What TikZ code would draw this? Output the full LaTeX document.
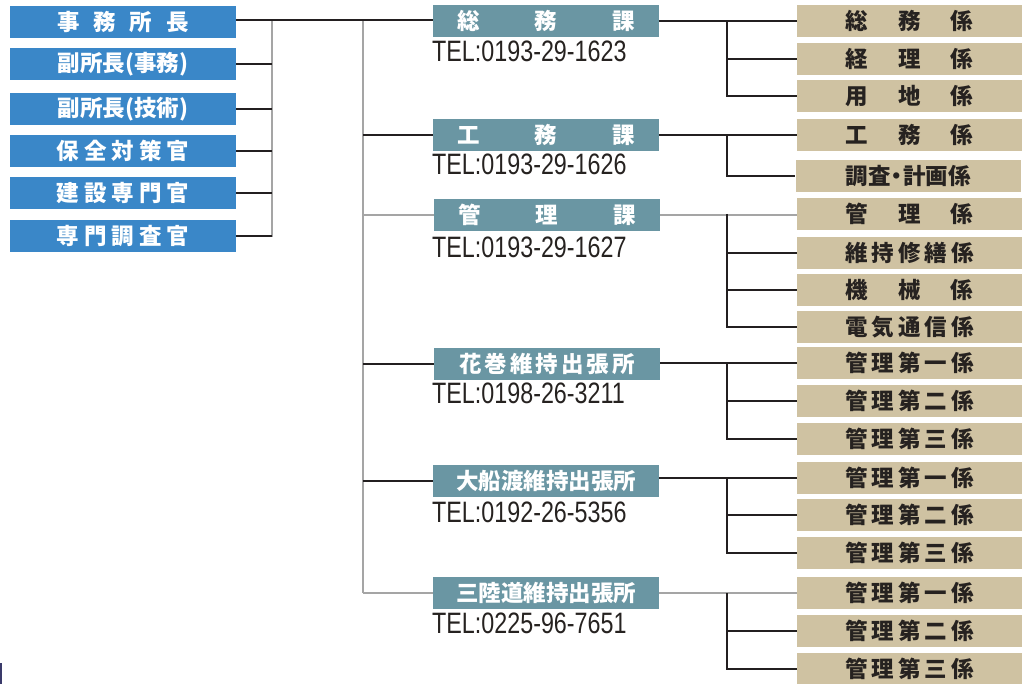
\documentclass[tikz,border=0pt]{standalone}
\usepackage{fontspec}
\newfontfamily\cjk{Noto Sans CJK JP}
\newfontfamily\telf[FakeStretch=0.79]{Liberation Sans}
\definecolor{bluebox}{RGB}{58,135,200}
\definecolor{tealbox}{RGB}{106,150,163}
\definecolor{tanbox}{RGB}{207,194,162}
\definecolor{darktext}{RGB}{38,34,32}
\definecolor{lineblack}{RGB}{35,31,32}
\definecolor{linegray}{RGB}{165,165,165}
\definecolor{navymark}{RGB}{58,58,106}
\newcommand\kk[1]{\hspace{#1pt}}
\begin{document}
\begin{tikzpicture}[x=1pt,y=-1pt,
  bbox/.style={rectangle, inner sep=0pt, minimum width=226pt, minimum height=32pt, fill=bluebox, text=white, font=\cjk\bfseries\fontsize{22.5}{22.5}\selectfont},
  tbox/.style={bbox, fill=tealbox},
  gbox/.style={bbox, minimum width=225pt, fill=tanbox, text=darktext},
  tel/.style={anchor=base west, inner sep=0pt, text=darktext, font=\telf\fontsize{29.5}{29.5}\selectfont},
  ln/.style={draw=lineblack, line width=1.2pt},
  gln/.style={draw=linegray, line width=1.7pt}]
\useasboundingbox (0,0) rectangle (1022,684);
% connector coordinates
\coordinate (lv1) at (272,20);
\coordinate (lv2) at (272,237);
\coordinate (mv1) at (363,20);
\coordinate (mv2) at (363,593);
\coordinate (rv) at (727,0);
% lines behind boxes (gray)
\draw[gln] (lv1) -- (lv2);
\draw[gln] (mv1) -- (mv2);
\draw[gln] (363,215) -- (797,215);
\draw[gln] (363,593) -- (797,593);
% left column
\node[bbox] (s1) at (123,22) {事\kk{14}務\kk{14}所\kk{14}長};
\node[bbox] (s2) at (123,64) {副所長(事務)};
\node[bbox] (s3) at (123,109) {副所長(技術)};
\node[bbox] (s4) at (123,151) {保\kk{5}全\kk{5}対\kk{5}策\kk{5}官};
\node[bbox] (s5) at (123,193) {建\kk{5}設\kk{5}専\kk{5}門\kk{5}官};
\node[bbox] (s6) at (123,236) {専\kk{5}門\kk{5}調\kk{5}査\kk{5}官};
% middle column
\node[tbox] (t1) at (546,21) {総\kk{55}務\kk{55}課};
\node[tbox] (t2) at (546,135) {工\kk{55}務\kk{55}課};
\node[tbox] (t3) at (547,215) {管\kk{55}理\kk{55}課};
\node[tbox] (t4) at (547,364) {花\kk{3}巻\kk{3}維\kk{3}持\kk{3}出\kk{3}張\kk{3}所};
\node[tbox] (t5) at (546,481) {大船渡維持出張所};
\node[tbox] (t6) at (546,593) {三陸道維持出張所};
\node[tel] (p1) at (432,62) {TEL:0193-29-1623};
\node[tel] (p2) at (432,175) {TEL:0193-29-1626};
\node[tel] (p3) at (432,258) {TEL:0193-29-1627};
\node[tel] (p4) at (432,403) {TEL:0198-26-3211};
\node[tel] (p5) at (432,522) {TEL:0192-26-5356};
\node[tel] (p6) at (432,633) {TEL:0225-96-7651};
% right column
\node[gbox] (g1) at (909.5,21) {総\kk{30}務\kk{30}係};
\node[gbox] (g2) at (909.5,59) {経\kk{30}理\kk{30}係};
\node[gbox] (g3) at (909.5,96) {用\kk{30}地\kk{30}係};
\node[gbox] (g4) at (909.5,135) {工\kk{30}務\kk{30}係};
\node[gbox] (g5) at (908,176) {調査\kk{-5}・\kk{-5}計画係};
\node[gbox] (g6) at (909.5,214) {管\kk{30}理\kk{30}係};
\node[gbox] (g7) at (909.5,253) {維\kk{4}持\kk{4}修\kk{4}繕\kk{4}係};
\node[gbox] (g8) at (909.5,290) {機\kk{30}械\kk{30}係};
\node[gbox] (g9) at (909.5,327) {電\kk{4}気\kk{4}通\kk{4}信\kk{4}係};
\node[gbox] (g10) at (909.5,363) {管\kk{4}理\kk{4}第\kk{4}一\kk{4}係};
\node[gbox] (g11) at (909.5,401) {管\kk{4}理\kk{4}第\kk{4}二\kk{4}係};
\node[gbox] (g12) at (909.5,439) {管\kk{4}理\kk{4}第\kk{4}三\kk{4}係};
\node[gbox] (g13) at (909.5,478) {管\kk{4}理\kk{4}第\kk{4}一\kk{4}係};
\node[gbox] (g14) at (909.5,515) {管\kk{4}理\kk{4}第\kk{4}二\kk{4}係};
\node[gbox] (g15) at (909.5,553) {管\kk{4}理\kk{4}第\kk{4}三\kk{4}係};
\node[gbox] (g16) at (909.5,593) {管\kk{4}理\kk{4}第\kk{4}一\kk{4}係};
\node[gbox] (g17) at (909.5,631) {管\kk{4}理\kk{4}第\kk{4}二\kk{4}係};
\node[gbox] (g18) at (909.5,669) {管\kk{4}理\kk{4}第\kk{4}三\kk{4}係};
% left connectors
\draw[ln] (s1.east |- lv1) -- (t1.west |- lv1);
\foreach \n in {s2,s3,s4,s5,s6} \draw[ln] (\n.east) -- (\n.east -| lv1);
% middle branches
\draw[ln] (t2.west -| mv1) -- (t2.west);
\draw[ln] (t4.west -| mv1) -- (t4.west);
\draw[ln] (t5.west -| mv1) -- (t5.west);
% right groups
\draw[ln] (t1.east |- g1.west) -- (g1.west);
\draw[ln] (g1.west -| rv) -- (g3.west -| rv) -- (g3.west);
\draw[ln] (g2.west -| rv) -- (g2.west);
\draw[ln] (t2.east) -- (g4.west);
\draw[ln] (g4.west -| rv) -- (g5.west -| rv) -- (g5.west);
\draw[ln] (g6.west -| rv) -- (g9.west -| rv) -- (g9.west);
\draw[ln] (g7.west -| rv) -- (g7.west);
\draw[ln] (g8.west -| rv) -- (g8.west);
\draw[ln] (t4.east |- g10.west) -- (g10.west);
\draw[ln] (g10.west -| rv) -- (g12.west -| rv) -- (g12.west);
\draw[ln] (g11.west -| rv) -- (g11.west);
\draw[ln] (t5.east |- g13.west) -- (g13.west);
\draw[ln] (g13.west -| rv) -- (g15.west -| rv) -- (g15.west);
\draw[ln] (g14.west -| rv) -- (g14.west);
\draw[ln] (g16.west -| rv) -- (g18.west -| rv) -- (g18.west);
\draw[ln] (g17.west -| rv) -- (g17.west);
% small mark at lower left
\fill[navymark] (0,663) rectangle (2,684);
\end{tikzpicture}
\end{document}
